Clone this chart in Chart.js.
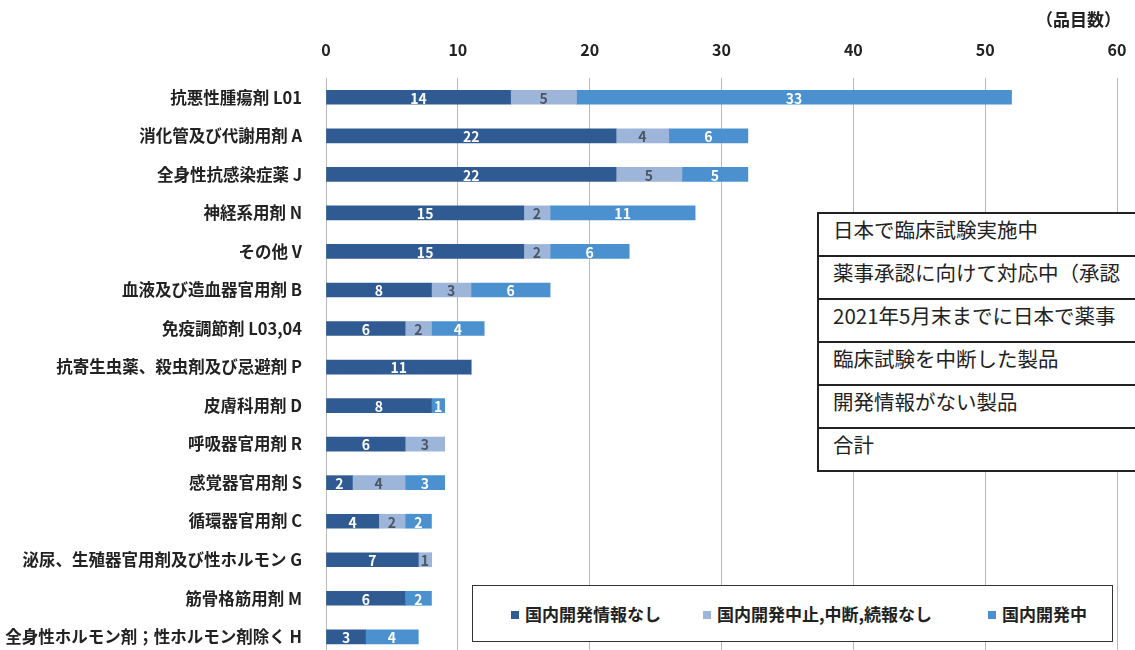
<!DOCTYPE html>
<html lang="ja">
<head>
  <meta charset="UTF-8">
  <title>薬効分類別 品目数</title>
  <script src="https://cdn.jsdelivr.net/npm/chart.js"></script>
  <style>
    html, body { margin: 0; padding: 0; background: #fff; overflow: hidden; width: 1135px; height: 650px; }
    #wrap { position: relative; width: 1135px; height: 650px; overflow: hidden; }
    canvas { position: absolute; left: 0; top: 0; }
    #unit {
      position: absolute; left: 1036px; top: 6px;
      font: bold 17px "Noto Sans CJK JP", sans-serif; color: #222;
    }
    #table {
      position: absolute; left: 817px; top: 212px; width: 340px;
      background: #fff; border-top: 2px solid #222; border-left: 2px solid #222;
    }
    #table div {
      height: 41px; line-height: 41px; border-bottom: 2px solid #222;
      padding-left: 14px; white-space: nowrap; overflow: hidden;
      font: 20.5px "Noto Sans CJK JP", sans-serif; color: #222;
    }
    #legend {
      position: absolute; left: 472px; top: 585px; width: 641px; height: 57px;
      background: #fff; border: 1.5px solid #333; box-sizing: border-box;
      display: flex; align-items: center; padding-left: 38px; gap: 42px;
      font: bold 17px "Noto Sans CJK JP", sans-serif; color: #222; white-space: nowrap;
    }
    #legend div:last-child { margin-left: 14px; }
    #legend span.sw { display: inline-block; width: 8px; height: 8px; margin-right: 6px; vertical-align: 2px; }
  </style>
</head>
<body>
<div id="wrap">
  <canvas id="chart" width="1135" height="682"></canvas>
  <div id="unit">（品目数）</div>
  <div id="table"></div>
  <div id="legend"></div>
</div>

<script>
  const categories = [
    '抗悪性腫瘍剤 L01',
    '消化管及び代謝用剤 A',
    '全身性抗感染症薬 J',
    '神経系用剤 N',
    'その他 V',
    '血液及び造血器官用剤 B',
    '免疫調節剤 L03,04',
    '抗寄生虫薬、殺虫剤及び忌避剤 P',
    '皮膚科用剤 D',
    '呼吸器官用剤 R',
    '感覚器官用剤 S',
    '循環器官用剤 C',
    '泌尿、生殖器官用剤及び性ホルモン G',
    '筋骨格筋用剤 M',
    '全身性ホルモン剤；性ホルモン剤除く H'
  ];
  const seriesNames = ['国内開発情報なし', '国内開発中止,中断,続報なし', '国内開発中'];
  const noInfo     = [14, 22, 22, 15, 15, 8, 6, 11, 8, 6, 2, 4, 7, 6, 3];
  const stopped    = [5, 4, 5, 2, 2, 3, 2, 0, 0, 3, 4, 2, 1, 0, 0];
  const developing = [33, 6, 5, 11, 6, 6, 4, 0, 1, 0, 3, 2, 0, 2, 4];
  const xTicks = [0, 10, 20, 30, 40, 50, 60];
  const tableRows = [
    '日本で臨床試験実施中',
    '薬事承認に向けて対応中（承認',
    '2021年5月末までに日本で薬事',
    '臨床試験を中断した製品',
    '開発情報がない製品',
    '合計'
  ];

  const colors = ['#2f5b92', '#9db5d9', '#4b91cf'];
  const labelColors = ['#fff', '#4a5566', '#fff'];

  // table overlay
  const table = document.getElementById('table');
  tableRows.forEach(t => {
    const d = document.createElement('div');
    d.textContent = t;
    table.appendChild(d);
  });

  // legend
  const legend = document.getElementById('legend');
  seriesNames.forEach((name, i) => {
    const item = document.createElement('div');
    item.innerHTML = '<span class="sw" style="background:' + colors[i] + '"></span>' + name;
    legend.appendChild(item);
  });

  // value labels in the middle of each segment
  const valueLabels = {
    id: 'valueLabels',
    afterDatasetsDraw(chart) {
      const ctx = chart.ctx;
      ctx.save();
      ctx.font = 'bold 14px "Liberation Sans Narrow", "Noto Sans CJK JP", sans-serif';
      ctx.textAlign = 'center';
      ctx.textBaseline = 'middle';
      chart.data.datasets.forEach((ds, di) => {
        const meta = chart.getDatasetMeta(di);
        meta.data.forEach((bar, i) => {
          const v = ds.data[i];
          if (!v) return;
          ctx.fillStyle = labelColors[di];
          ctx.fillText(v, (bar.x + bar.base) / 2, bar.y + 1);
        });
      });
      ctx.restore();
    }
  };

  new Chart(document.getElementById('chart').getContext('2d'), {
    type: 'bar',
    data: {
      labels: categories,
      datasets: [
        { label: seriesNames[0], data: noInfo, backgroundColor: colors[0] },
        { label: seriesNames[1], data: stopped, backgroundColor: colors[1] },
        { label: seriesNames[2], data: developing, backgroundColor: colors[2] }
      ]
    },
    options: {
      indexAxis: 'y',
      responsive: false,
      animation: false,
      layout: { padding: { left: 0, right: 18, top: 0, bottom: 2 } },
      plugins: { legend: { display: false }, tooltip: { enabled: false } },
      datasets: { bar: { barThickness: 14 } },
      scales: {
        x: {
          position: 'top',
          stacked: true,
          min: 0,
          max: 60,
          afterBuildTicks: axis => { axis.ticks = xTicks.map(v => ({ value: v })); },
          afterFit: axis => {
            axis.height = 78;
            axis.paddingLeft = 0;
            axis.paddingRight = 0;
          },
          grid: { color: '#b8b8b8', lineWidth: 1, drawTicks: false },
          border: { display: false },
          ticks: {
            padding: 18,
            color: '#222',
            font: { family: '"Liberation Sans Narrow", "Noto Sans CJK JP", sans-serif', size: 16, weight: 'bold' }
          }
        },
        y: {
          stacked: true,
          afterFit: axis => { axis.width = 326; },
          grid: { display: false },
          border: { display: true, color: '#b8b8b8' },
          ticks: {
            padding: 16,
            color: '#222',
            font: { family: '"Noto Sans CJK JP", sans-serif', size: 16.5, weight: 'bold' }
          }
        }
      }
    },
    plugins: [valueLabels]
  });
</script>
</body>
</html>
